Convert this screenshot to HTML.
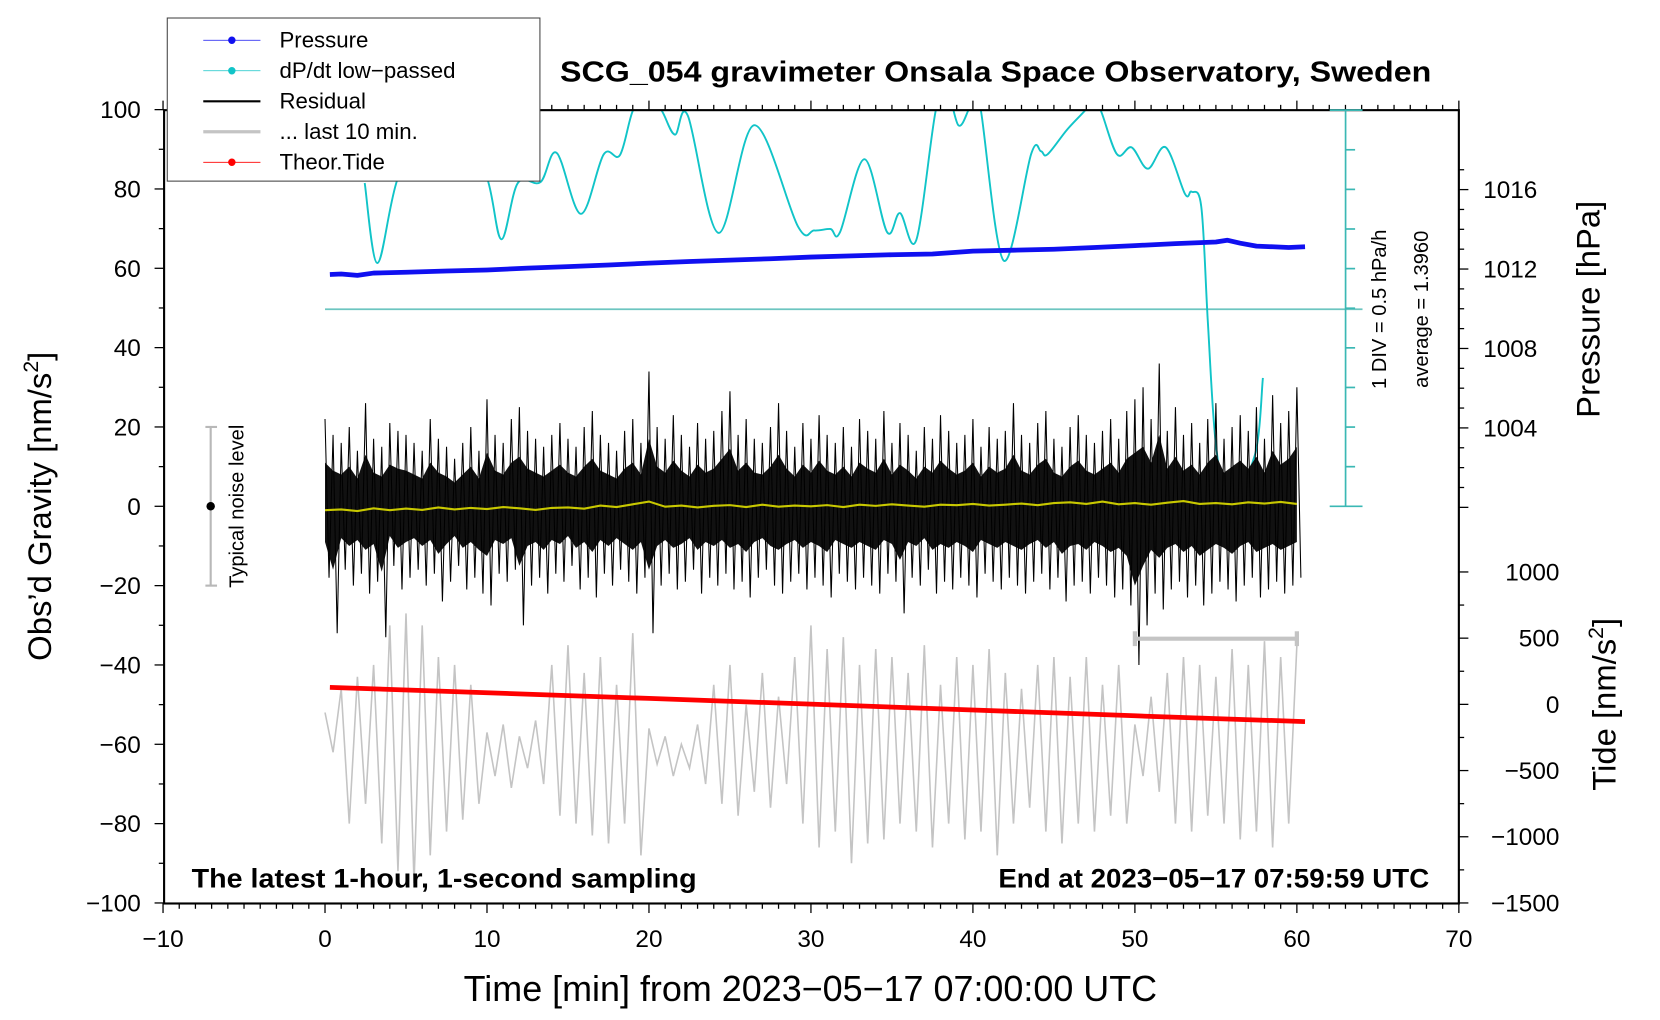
<!DOCTYPE html>
<html><head><meta charset="utf-8"><style>
html,body{margin:0;padding:0;background:#fff;}
svg{display:block;font-family:"Liberation Sans",sans-serif;}
</style></head><body>
<svg id="chart" width="1660" height="1020" viewBox="0 0 1568 963" preserveAspectRatio="none" xmlns="http://www.w3.org/2000/svg">
<defs><clipPath id="plotclip"><rect x="155" y="104" width="1223" height="749"/></clipPath></defs>
<rect x="0" y="0" width="1568" height="963" fill="#fff"/>
<g id="marks" clip-path="url(#plotclip)"></g>
<g id="axes"></g>
</svg>
<script>
// ---- data ----
const xTicks = [-10,0,10,20,30,40,50,60,70];
const gTicks = [100,80,60,40,20,0,-20,-40,-60,-80,-100];
const pTicks = [1016,1012,1008,1004];
const tideTicks = [1000,500,0,-500,-1000,-1500];
const cyanT = [2.45,3.23,4.4,6.5,8.5,10.1,10.9,11.9,13.3,14.3,15.8,17.2,18.2,19.0,19.9,20.8,21.6,22.4,24.3,26.5,29.2,30.2,31.2,31.8,33.3,34.7,35.5,36.5,37.7,38.4,39.1,39.7,40.1,40.5,41.9,43.6,44.2,44.6,45.8,46.9,47.4,47.9,48.9,49.8,50.8,51.9,53.1,53.5,54.1,54.5,55.0,55.8,57.4,57.9];
const cyanV = [2.99,1.98,2.99,4.23,4.1,2.99,2.28,2.99,3.00,3.37,2.60,3.35,3.34,3.90,4.16,3.90,3.60,3.84,2.36,3.72,2.44,2.39,2.41,2.37,3.29,2.37,2.61,2.27,3.90,4.16,3.72,3.90,4.16,3.90,2.01,3.36,3.39,3.35,3.66,3.90,4.03,3.90,3.35,3.44,3.17,3.44,2.85,2.88,2.69,1.26,-0.31,-0.98,-0.45,0.53];
const cyanAvg = 1.396;
const presT = [0.3,1,2,3,5,7.5,10,12.5,15,17.5,20,22.5,25,27.5,30,32.5,35,37.5,40,42.5,45,47.5,50,52.5,55,55.7,56.5,57.5,58.5,59.5,60.5];
const presV = [1011.72,1011.75,1011.68,1011.8,1011.84,1011.9,1011.95,1012.05,1012.12,1012.2,1012.3,1012.38,1012.45,1012.52,1012.6,1012.66,1012.72,1012.76,1012.9,1012.95,1013.0,1013.08,1013.18,1013.28,1013.36,1013.45,1013.3,1013.15,1013.12,1013.08,1013.12];
const tideT = [0.3,10,20,30,40,50,60.5];
const tideV = [128,88,45,2,-42,-86,-130];
const yelV = [-1,-0.8,-1.2,-0.5,-1,-0.6,-0.9,-0.3,-0.8,-0.4,-0.7,-0.2,-0.5,-0.9,-0.4,-0.3,-0.6,0.2,-0.2,0.5,1.2,-0.1,0.2,-0.3,0.1,0.3,-0.2,0.4,-0.1,0.2,0,0.3,-0.2,0.4,0.1,0.5,0.2,-0.1,0.4,0.3,0.6,0.2,0.4,0.7,0.3,0.8,1.0,0.6,1.2,0.5,0.8,0.4,0.9,1.3,0.6,0.8,0.5,1.0,0.7,1.1,0.6];
const resHi = [22,18,16,20,14,26,17,15,21,19,18,16,14,22,17,15,12,16,20,14,27,18,16,22,25,19,17,15,18,21,17,15,20,24,18,16,14,19,22,16,34,20,17,23,18,15,21,17,19,24,29,18,22,17,16,20,26,19,15,21,17,23,18,16,20,15,22,19,17,24,16,21,18,14,20,17,23,19,16,18,22,15,20,17,19,26,18,16,21,24,17,15,20,23,18,16,19,22,17,24,27,30,22,36,19,25,18,21,16,22,26,17,20,23,19,25,17,28,21,24,30];
const resLo = [-18,-32,-16,-20,-17,-22,-19,-33,-15,-21,-18,-16,-20,-17,-24,-19,-15,-21,-18,-22,-25,-17,-19,-16,-30,-20,-18,-22,-17,-19,-15,-21,-18,-23,-17,-20,-16,-19,-22,-18,-32,-20,-17,-21,-19,-16,-22,-18,-20,-17,-21,-19,-23,-18,-16,-20,-22,-19,-17,-21,-18,-20,-23,-17,-19,-21,-18,-20,-22,-17,-19,-27,-18,-20,-16,-22,-19,-21,-18,-20,-23,-17,-19,-21,-18,-20,-22,-19,-17,-21,-18,-24,-20,-19,-22,-18,-20,-23,-21,-25,-40,-30,-22,-26,-21,-19,-23,-20,-25,-22,-19,-21,-24,-20,-18,-23,-21,-19,-22,-20,-18];
const grayV = [-52,-62,-46,-80,-43,-75,-40,-85,-30,-92,-27,-95,-30,-88,-38,-82,-40,-79,-45,-75,-57,-68,-55,-71,-58,-66,-54,-70,-40,-78,-35,-80,-42,-83,-38,-85,-45,-80,-32,-88,-56,-65,-58,-68,-60,-66,-55,-70,-45,-75,-40,-78,-50,-72,-42,-76,-48,-70,-38,-80,-30,-86,-36,-82,-33,-90,-40,-85,-36,-84,-38,-80,-42,-82,-35,-86,-45,-80,-38,-84,-40,-82,-36,-88,-42,-80,-46,-76,-40,-82,-38,-85,-43,-80,-38,-82,-45,-78,-40,-80,-55,-68,-48,-72,-42,-80,-38,-82,-40,-78,-43,-80,-36,-84,-40,-82,-34,-86,-38,-80,-35];

// ---- axis functions ----
const X = t => 307 + t*15.3;
const YG = g => 478 - g*3.745;
const YP = p => 254 - (p-1012)*18.75;
const YT = v => 665 - v*0.125;
const YC = v => 292 - (v-cyanAvg)*74.8;
const NS = "http://www.w3.org/2000/svg";
const marks = document.getElementById('marks');
const axes = document.getElementById('axes');
function mk(tag, attrs, parent){const e=document.createElementNS(NS,tag);for(const k in attrs)e.setAttribute(k,attrs[k]);parent.appendChild(e);return e;}
function pathFrom(ts, vs, yf){return ts.map((t,i)=>(i?'L':'M')+X(t).toFixed(1)+','+yf(vs[i]).toFixed(1)).join('');}
function smoothFrom(ts, vs, yf){
  const p = ts.map((t,i)=>[X(t), yf(vs[i])]);
  let d = 'M'+p[0][0].toFixed(1)+','+p[0][1].toFixed(1);
  for(let i=0;i<p.length-1;i++){
    const p0=p[Math.max(0,i-1)],p1=p[i],p2=p[i+1],p3=p[Math.min(p.length-1,i+2)];
    const c1=[p1[0]+(p2[0]-p0[0])/6,p1[1]+(p2[1]-p0[1])/6];
    const c2=[p2[0]-(p3[0]-p1[0])/6,p2[1]-(p3[1]-p1[1])/6];
    d+='C'+c1[0].toFixed(1)+','+c1[1].toFixed(1)+' '+c2[0].toFixed(1)+','+c2[1].toFixed(1)+' '+p2[0].toFixed(1)+','+p2[1].toFixed(1);
  }
  return d;
}

let e = mk('line',{x1:X(0),x2:1287,y1:YC(cyanAvg),y2:YC(cyanAvg),stroke:'#6cc5c0','stroke-width':1.6},marks);



const grayT = grayV.map((v,i)=>i*0.5);
e = mk('path',{d:pathFrom(grayT,grayV,YG),fill:'none',stroke:'#c4c4c4','stroke-width':1.5},marks);



// cyan dP/dt (under residual)
e = mk('path',{d:smoothFrom(cyanT,cyanV,YC),fill:'none',stroke:'#11c4c8','stroke-width':1.8,'stroke-linejoin':'round'},marks);



const rT=[],rV=[];
resHi.forEach((h,i)=>{rT.push(i*0.5);rV.push(h);rT.push(i*0.5+0.25);rV.push(resLo[i]);});
const coreHi = resHi.map(h=>h*0.5), coreLo = resLo.map(l=>l*0.5);
const coreT = resHi.map((h,i)=>i*0.5);
let cd = pathFrom(coreT,coreHi,YG)+coreT.slice().reverse().map((t,i)=>'L'+X(t).toFixed(1)+','+YG(coreLo[coreLo.length-1-i]).toFixed(1)).join('')+'Z';
e = mk('path',{d:cd,fill:'#111'},marks);


e = mk('path',{d:pathFrom(rT,rV,YG),fill:'none',stroke:'#000','stroke-width':1},marks);



const yelT = yelV.map((v,i)=>i);
e = mk('path',{d:pathFrom(yelT,yelV,YG),fill:'none',stroke:'#c8c800','stroke-width':2},marks);



e = mk('path',{d:pathFrom(presT,presV,YP),fill:'none',stroke:'#1010f0','stroke-width':4.5,'stroke-linejoin':'round'},marks);



e = mk('path',{d:pathFrom(tideT,tideV,YT),fill:'none',stroke:'#ff0000','stroke-width':4.5},marks);



// ---- axes ----
e = mk('rect',{x:155,y:104,width:1223,height:749,fill:'none',stroke:'#000','stroke-width':2},axes);


for(let t=-10;t<=70;t++){
  const maj = t%10===0, len = maj?9:5;
  mk('line',{x1:X(t),x2:X(t),y1:853,y2:853+len,stroke:'#000','stroke-width':1.2},axes);
  mk('line',{x1:X(t),x2:X(t),y1:104,y2:104-len,stroke:'#000','stroke-width':1.2},axes);
}
xTicks.forEach(t=>{
  const l = mk('text',{x:X(t),y:894,'text-anchor':'middle','font-size':23},axes);
  l.textContent = String(t).replace('-','\u2212');
  
  
});
for(let g=-100;g<=100;g+=10){
  mk('line',{x1:155,x2:155-(g%20===0?9:5),y1:YG(g),y2:YG(g),stroke:'#000','stroke-width':1.2},axes);
}
gTicks.forEach(g=>{
  const l = mk('text',{x:133,y:YG(g)+8,'text-anchor':'end','font-size':23},axes);
  l.textContent = String(g).replace('-','\u2212');
  
  
});
for(let p=1000;p<=1017;p++){
  mk('line',{x1:1378,x2:1378+(p%4===0?9:5),y1:YP(p),y2:YP(p),stroke:'#000','stroke-width':1.2},axes);
}
pTicks.forEach(p=>{
  const l = mk('text',{x:1401,y:YP(p)+8,'font-size':23},axes);
  l.textContent = p;
  
  
});
for(let v=-1500;v<=1000;v+=250){
  mk('line',{x1:1378,x2:1378+(v%500===0?9:5),y1:YT(v),y2:YT(v),stroke:'#000','stroke-width':1.2},axes);
}
tideTicks.forEach(v=>{
  const l = mk('text',{x:1473,y:YT(v)+8,'text-anchor':'end','font-size':23},axes);
  l.textContent = String(v).replace('-','\u2212');
  
  
});
const sb = mk('g',{stroke:'#3bb8b4','stroke-width':1.6},axes);


mk('line',{x1:1271,x2:1271,y1:104,y2:478},sb);
mk('line',{x1:1256,x2:1287,y1:104,y2:104},sb);
mk('line',{x1:1256,x2:1287,y1:478,y2:478},sb);
for(let k=1;k<10;k++) mk('line',{x1:1271,x2:1280,y1:104+k*37.4,y2:104+k*37.4},sb);
const nb = mk('g',{stroke:'#b8b8b8','stroke-width':2},axes);


mk('line',{x1:199,x2:199,y1:YG(20),y2:YG(-20)},nb);
mk('line',{x1:194,x2:205,y1:YG(20),y2:YG(20)},nb);
mk('line',{x1:194,x2:205,y1:YG(-20),y2:YG(-20)},nb);
mk('circle',{cx:199,cy:YG(0),r:4,fill:'#000',stroke:'none'},axes);
const rb = mk('g',{stroke:'#c4c4c4','stroke-width':4},axes);


mk('line',{x1:X(50),x2:X(60),y1:603,y2:603},rb);
mk('line',{x1:X(50),x2:X(50),y1:596,y2:610},rb);
mk('line',{x1:X(60),x2:X(60),y1:596,y2:610},rb);
</script>
<script>
const S = document.getElementById('chart');
const NS2="http://www.w3.org/2000/svg";
function tx(str, attrs, name){const t=document.createElementNS(NS2,'text');for(const k in attrs)t.setAttribute(k,attrs[k]);t.textContent=str;


S.appendChild(t);return t;}
tx('SCG_054 gravimeter Onsala Space Observatory, Sweden',{x:529,y:77,'font-size':27,'font-weight':'bold',textLength:823,lengthAdjust:'spacingAndGlyphs'},'chart-title');
tx('The latest 1-hour, 1-second sampling',{x:181,y:838,'font-size':25,'font-weight':'bold',textLength:477,lengthAdjust:'spacingAndGlyphs'},'sampling-note');
tx('End at 2023\u221205\u221217 07:59:59 UTC',{x:943,y:838,'font-size':25,'font-weight':'bold',textLength:407,lengthAdjust:'spacingAndGlyphs'},'end-time-note');
tx('Time [min] from 2023\u221205\u221217 07:00:00 UTC',{x:438,y:945,'font-size':34,textLength:655,lengthAdjust:'spacingAndGlyphs'},'x-axis-title');
const yt = tx('',{x:0,y:0,'font-size':31,'text-anchor':'middle',transform:'translate(48,478) rotate(-90)'},'y-axis-title');
yt.innerHTML='Obs\u2019d Gravity [nm/s<tspan dy="-12" font-size="20">2</tspan><tspan dy="12">]</tspan>';
tx('Pressure [hPa]',{x:0,y:0,'font-size':31,'text-anchor':'middle',transform:'translate(1511,292) rotate(-90)'},'pressure-axis-title');
const tt = tx('',{x:0,y:0,'font-size':31,'text-anchor':'middle',transform:'translate(1526,665) rotate(-90)'},'tide-axis-title');
tt.innerHTML='Tide [nm/s<tspan dy="-12" font-size="20">2</tspan><tspan dy="12">]</tspan>';
tx('1 DIV = 0.5 hPa/h',{x:0,y:0,'font-size':19,'text-anchor':'middle',transform:'translate(1309,292) rotate(-90)'},'scale-div-label');
tx('average = 1.3960',{x:0,y:0,'font-size':19,'text-anchor':'middle',transform:'translate(1349,292) rotate(-90)'},'scale-average-label');
tx('Typical noise level',{x:0,y:0,'font-size':19,'text-anchor':'middle',transform:'translate(230,478) rotate(-90)'},'noise-level-label');
const lg=document.createElementNS(NS2,'g');


S.appendChild(lg);
function el(tag,attrs){const e=document.createElementNS(NS2,tag);for(const k in attrs)e.setAttribute(k,attrs[k]);lg.appendChild(e);return e;}
el('rect',{x:158,y:17,width:352,height:154,fill:'#fff',stroke:'#444','stroke-width':1});
const legNames=['Pressure','dP/dt low\u2212passed','Residual','... last 10 min.','Theor.Tide'];
const legCols=['#1010f0','#11c4c8','#000','#c4c4c4','#ff0000'];
const legW=[0.8,0.8,2,3,0.8];
const legDot=[true,true,false,false,true];
legNames.forEach((n,i)=>{
  const y=38+i*28.8;
  el('line',{x1:192,x2:246,y1:y,y2:y,stroke:legCols[i],'stroke-width':legW[i]});
  if(legDot[i]) el('circle',{cx:219,cy:y,r:3.5,fill:legCols[i]});
  const t=el('text',{x:264,y:y+7,'font-size':21});
  t.textContent=n;
  
  
});
</script>
</body></html>
